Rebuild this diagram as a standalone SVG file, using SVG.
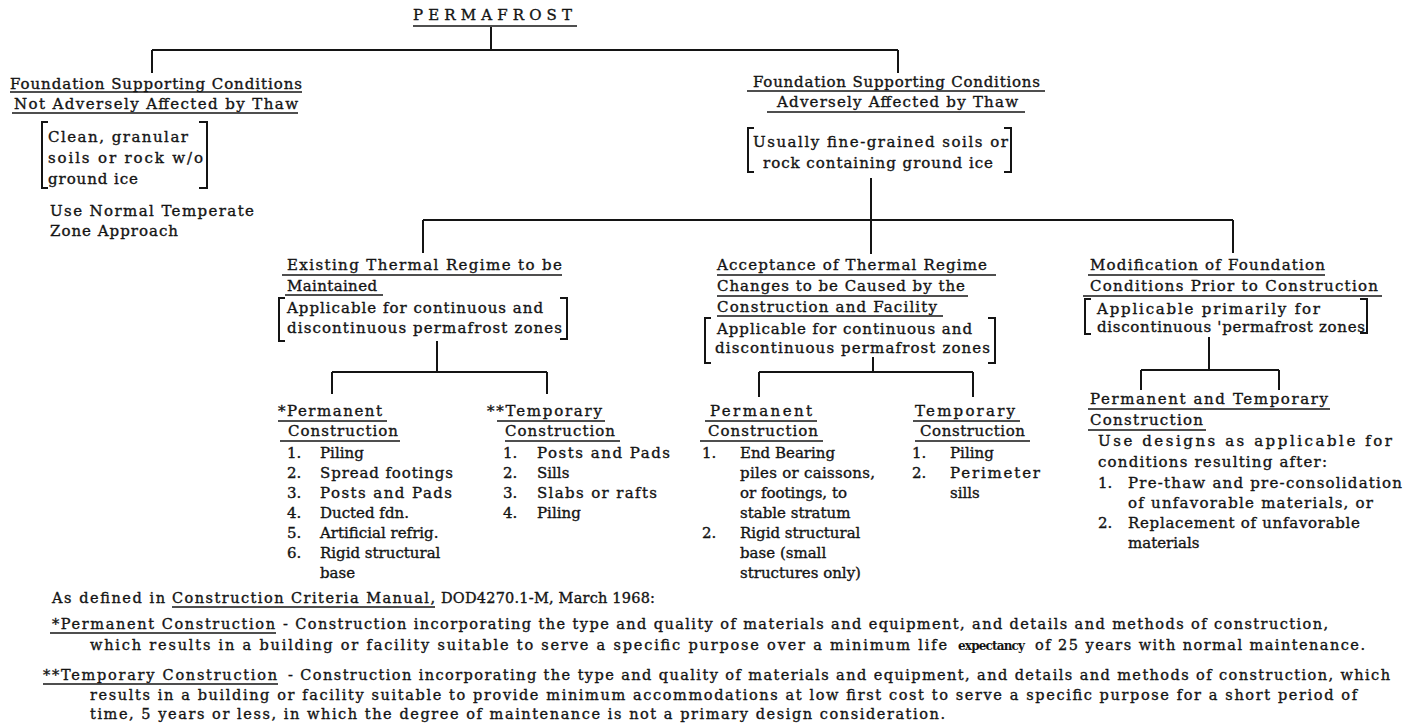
<svg xmlns="http://www.w3.org/2000/svg" width="1424" height="728" viewBox="0 0 1424 728">
<style>
  text { font-family: "DejaVu Serif", "Liberation Serif", serif; font-size: 15px; fill: #141414; stroke: #141414; stroke-width: 0.35px; }
  .ft { font-size: 14.5px; }
  .exp { font-size: 12px; font-weight: bold; stroke-width: 0; }
  .ul { stroke: #141414; stroke-width: 1.5; fill: none; }
  .conn { stroke: #141414; stroke-width: 2; fill: none; }
  .br { stroke: #141414; stroke-width: 2; fill: none; }
</style>
<rect x="0" y="0" width="1424" height="728" fill="#ffffff"/>

<g id="connectors">
  <path class="conn" d="M491 27 V50 M152 50 H898 M152 50 V73 M898 50 V73"/>
  <path class="conn" d="M871 178 V254 M423 220 H1233 M423 220 V253 M1233 220 V253"/>
  <path class="conn" d="M437 341 V372 M332 372 H547 M332 372 V394 M547 372 V394"/>
  <path class="conn" d="M873 357 V372 M759 372 H973 M759 372 V397 M973 372 V397"/>
  <path class="conn" d="M1209 337 V370 M1141 370 H1279 M1141 370 V390 M1279 370 V390"/>
</g>

<g id="node-permafrost">
  <text x="413" y="20" textLength="159" lengthAdjust="spacing">PERMAFROST</text>
  <line class="ul" x1="413" y1="26" x2="577" y2="26"/>
</g>

<g id="node-not-affected">
  <text x="10" y="89" textLength="292" lengthAdjust="spacing">Foundation Supporting Conditions</text>
  <line class="ul" x1="10" y1="92" x2="302" y2="92"/>
  <text x="14" y="109" textLength="284" lengthAdjust="spacing">Not Adversely Affected by Thaw</text>
  <line class="ul" x1="12" y1="113" x2="298" y2="113"/>
  <path class="br" d="M48 122 H42 V188 H48 M199 122 H207 V188 H199"/>
  <text x="48" y="142" textLength="140" lengthAdjust="spacing">Clean, granular</text>
  <text x="48" y="163" textLength="155" lengthAdjust="spacing">soils or rock w/o</text>
  <text x="48" y="184" textLength="90" lengthAdjust="spacing">ground ice</text>
  <text x="50" y="216" textLength="204" lengthAdjust="spacing">Use Normal Temperate</text>
  <text x="50" y="236" textLength="128" lengthAdjust="spacing">Zone Approach</text>
</g>

<g id="node-affected">
  <text x="753" y="87" textLength="287" lengthAdjust="spacing">Foundation Supporting Conditions</text>
  <line class="ul" x1="747" y1="91" x2="1045" y2="91"/>
  <text x="777" y="107" textLength="241" lengthAdjust="spacing">Adversely Affected by Thaw</text>
  <line class="ul" x1="767" y1="112" x2="1025" y2="112"/>
  <path class="br" d="M754 128 H748 V172 H754 M1004 128 H1011 V172 H1004"/>
  <text x="753" y="147" textLength="255" lengthAdjust="spacing">Usually fine-grained soils or</text>
  <text x="763" y="168" textLength="230" lengthAdjust="spacing">rock containing ground ice</text>
</g>

<g id="node-existing">
  <text x="287" y="270" textLength="275" lengthAdjust="spacing">Existing Thermal Regime to be</text>
  <line class="ul" x1="282" y1="275" x2="562" y2="275"/>
  <text x="287" y="291" textLength="90" lengthAdjust="spacing">Maintained</text>
  <line class="ul" x1="285" y1="295" x2="383" y2="295"/>
  <path class="br" d="M285 298 H279 V341 H285 M560 298 H567 V339 H560"/>
  <text x="287" y="313" textLength="256" lengthAdjust="spacing">Applicable for continuous and</text>
  <text x="287" y="333" textLength="275" lengthAdjust="spacing">discontinuous permafrost zones</text>
</g>

<g id="node-existing-permanent">
  <text x="278" y="416" textLength="104" lengthAdjust="spacing">*Permanent</text>
  <line class="ul" x1="278" y1="421" x2="387" y2="421"/>
  <text x="288" y="436" textLength="110" lengthAdjust="spacing">Construction</text>
  <line class="ul" x1="280" y1="441" x2="400" y2="441"/>
  <text x="287" y="458">1.</text><text x="320" y="458">Piling</text>
  <text x="287" y="478">2.</text><text x="320" y="478" textLength="133" lengthAdjust="spacing">Spread footings</text>
  <text x="287" y="498">3.</text><text x="320" y="498" textLength="132" lengthAdjust="spacing">Posts and Pads</text>
  <text x="287" y="518">4.</text><text x="320" y="518">Ducted fdn.</text>
  <text x="287" y="538">5.</text><text x="320" y="538">Artificial refrig.</text>
  <text x="287" y="558">6.</text><text x="320" y="558">Rigid structural</text>
  <text x="320" y="578">base</text>
</g>

<g id="node-existing-temporary">
  <text x="487" y="416" textLength="115" lengthAdjust="spacing">**Temporary</text>
  <line class="ul" x1="497" y1="421" x2="605" y2="421"/>
  <text x="505" y="436" textLength="110" lengthAdjust="spacing">Construction</text>
  <line class="ul" x1="505" y1="441" x2="620" y2="441"/>
  <text x="503" y="458">1.</text><text x="537" y="458" textLength="133" lengthAdjust="spacing">Posts and Pads</text>
  <text x="503" y="478">2.</text><text x="537" y="478">Sills</text>
  <text x="503" y="498">3.</text><text x="537" y="498" textLength="120" lengthAdjust="spacing">Slabs or rafts</text>
  <text x="503" y="518">4.</text><text x="537" y="518">Piling</text>
</g>

<g id="node-acceptance">
  <text x="717" y="270" textLength="270" lengthAdjust="spacing">Acceptance of Thermal Regime</text>
  <line class="ul" x1="717" y1="275" x2="996" y2="275"/>
  <text x="717" y="291" textLength="248" lengthAdjust="spacing">Changes to be Caused by the</text>
  <line class="ul" x1="717" y1="296" x2="968" y2="296"/>
  <text x="717" y="312" textLength="220" lengthAdjust="spacing">Construction and Facility</text>
  <line class="ul" x1="717" y1="316" x2="943" y2="316"/>
  <path class="br" d="M711 318 H705 V363 H711 M988 318 H995 V363 H988"/>
  <text x="717" y="334" textLength="255" lengthAdjust="spacing">Applicable for continuous and</text>
  <text x="715" y="353" textLength="275" lengthAdjust="spacing">discontinuous permafrost zones</text>
</g>

<g id="node-acceptance-permanent">
  <text x="710" y="416" textLength="102" lengthAdjust="spacing">Permanent</text>
  <line class="ul" x1="705" y1="421" x2="817" y2="421"/>
  <text x="708" y="436" textLength="110" lengthAdjust="spacing">Construction</text>
  <line class="ul" x1="700" y1="441" x2="823" y2="441"/>
  <text x="702" y="458">1.</text><text x="740" y="458">End Bearing</text>
  <text x="740" y="478" textLength="135" lengthAdjust="spacing">piles or caissons,</text>
  <text x="740" y="498">or footings, to</text>
  <text x="740" y="518">stable stratum</text>
  <text x="702" y="538">2.</text><text x="740" y="538">Rigid structural</text>
  <text x="740" y="558">base (small</text>
  <text x="740" y="578">structures only)</text>
</g>

<g id="node-acceptance-temporary">
  <text x="915" y="416" textLength="100" lengthAdjust="spacing">Temporary</text>
  <line class="ul" x1="913" y1="421" x2="1020" y2="421"/>
  <text x="920" y="436" textLength="105" lengthAdjust="spacing">Construction</text>
  <line class="ul" x1="915" y1="441" x2="1030" y2="441"/>
  <text x="912" y="458">1.</text><text x="950" y="458">Piling</text>
  <text x="912" y="478">2.</text><text x="950" y="478" textLength="90" lengthAdjust="spacing">Perimeter</text>
  <text x="950" y="498">sills</text>
</g>

<g id="node-modification">
  <text x="1090" y="270" textLength="235" lengthAdjust="spacing">Modification of Foundation</text>
  <line class="ul" x1="1088" y1="275" x2="1325" y2="275"/>
  <text x="1090" y="291" textLength="288" lengthAdjust="spacing">Conditions Prior to Construction</text>
  <line class="ul" x1="1083" y1="296" x2="1382" y2="296"/>
  <path class="br" d="M1091 299 H1085 V334 H1091 M1360 299 H1367 V333 H1360"/>
  <text x="1097" y="314" textLength="223" lengthAdjust="spacing">Applicable primarily for</text>
  <text x="1097" y="332" textLength="268" lengthAdjust="spacing">discontinuous 'permafrost zones</text>
</g>

<g id="node-modification-construction">
  <text x="1090" y="404" textLength="238" lengthAdjust="spacing">Permanent and Temporary</text>
  <line class="ul" x1="1088" y1="409" x2="1330" y2="409"/>
  <text x="1090" y="425" textLength="113" lengthAdjust="spacing">Construction</text>
  <line class="ul" x1="1088" y1="430" x2="1206" y2="430"/>
  <text x="1098" y="446" textLength="294" lengthAdjust="spacing">Use designs as applicable for</text>
  <text x="1098" y="467" textLength="229" lengthAdjust="spacing">conditions resulting after:</text>
  <text x="1098" y="488">1.</text><text x="1128" y="488" textLength="274" lengthAdjust="spacing">Pre-thaw and pre-consolidation</text>
  <text x="1128" y="508" textLength="245" lengthAdjust="spacing">of unfavorable materials, or</text>
  <text x="1098" y="528">2.</text><text x="1128" y="528" textLength="232" lengthAdjust="spacing">Replacement of unfavorable</text>
  <text x="1128" y="548">materials</text>
</g>

<g id="node-footnotes">
  <text class="ft" x="52" y="603" textLength="113" lengthAdjust="spacing">As defined in</text>
  <text class="ft" x="172" y="603" textLength="263" lengthAdjust="spacing">Construction Criteria Manual,</text>
  <line class="ul" x1="172" y1="607" x2="435" y2="607"/>
  <text class="ft" x="441" y="603" textLength="214" lengthAdjust="spacing">DOD4270.1-M, March 1968:</text>

  <text class="ft" x="52" y="629" textLength="223" lengthAdjust="spacing">*Permanent Construction</text>
  <line class="ul" x1="50" y1="633" x2="276" y2="633"/>
  <text class="ft" x="283" y="629" textLength="1045" lengthAdjust="spacing">- Construction incorporating the type and quality of materials and equipment, and details and methods of construction,</text>
  <text class="ft" x="90" y="650" textLength="857" lengthAdjust="spacing">which results in a building or facility suitable to serve a specific purpose over a minimum life</text>
  <text class="ft exp" x="958" y="650" textLength="67" lengthAdjust="spacing">expectancy</text>
  <text class="ft" x="1035" y="650" textLength="330" lengthAdjust="spacing">of 25 years with normal maintenance.</text>

  <text class="ft" x="43" y="680" textLength="234" lengthAdjust="spacing">**Temporary Construction</text>
  <line class="ul" x1="43" y1="684" x2="278" y2="684"/>
  <text class="ft" x="288" y="680" textLength="1102" lengthAdjust="spacing">- Construction incorporating the type and quality of materials and equipment, and details and methods of construction, which</text>
  <text class="ft" x="90" y="700" textLength="1267" lengthAdjust="spacing">results in a building or facility  suitable to provide minimum accommodations at low first cost to serve a specific purpose for a short period of</text>
  <text class="ft" x="90" y="719" textLength="855" lengthAdjust="spacing">time, 5 years or less, in which the degree of maintenance is not a primary design consideration.</text>
</g>
</svg>
